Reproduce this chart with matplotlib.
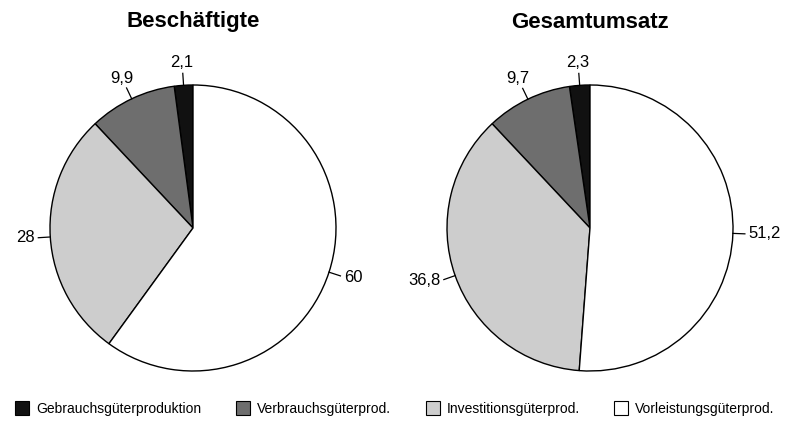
import numpy as np
import matplotlib.pyplot as plt
from matplotlib.patches import Patch

plt.rcParams['font.family'] = ['Liberation Sans', 'DejaVu Sans']

# data
categories = ['Gebrauchsgüterproduktion', 'Verbrauchsgüterprod.',
              'Investitionsgüterprod.', 'Vorleistungsgüterprod.']
beschaeftigte = [2.1, 9.9, 28, 60]
gesamtumsatz = [2.3, 9.7, 36.8, 51.2]
labels_b = ['2,1', '9,9', '28', '60']
labels_g = ['2,3', '9,7', '36,8', '51,2']
titles = ['Beschäftigte', 'Gesamtumsatz']

colors = ['#111111', '#6e6e6e', '#cdcdcd', '#ffffff']

fig = plt.figure(figsize=(7.9, 4.21), dpi=100)
ax = fig.add_axes([0, 0, 1, 1])

R = 143
centers = [(193, 193), (590, 193)]


def draw_pie(vals, labs, center, title):
    wedges, _ = ax.pie(vals, colors=colors, startangle=90, counterclock=True,
                       center=center, radius=R,
                       wedgeprops=dict(edgecolor='black', linewidth=1.0))
    for w, lab in zip(wedges, labs):
        ang = np.deg2rad((w.theta1 + w.theta2) / 2)
        c, s = np.cos(ang), np.sin(ang)
        x0, y0 = center[0] + R * c, center[1] + R * s
        x1, y1 = center[0] + (R + 12) * c, center[1] + (R + 12) * s
        ax.plot([x0, x1], [y0, y1], color='black', lw=0.9)
        if abs(c) > 0.7:
            ha = 'left' if c > 0 else 'right'
            tx, ty = center[0] + (R + 16) * c, center[1] + (R + 16) * s
        else:
            ha = 'center'
            tx, ty = center[0] + (R + 23) * c, center[1] + (R + 23) * s
        ax.text(tx, ty, lab, ha=ha, va='center', fontsize=12)
    ax.text(center[0], 399, title, ha='center', va='center',
            fontsize=16, fontweight='bold')


draw_pie(beschaeftigte, labels_b, centers[0], titles[0])
draw_pie(gesamtumsatz, labels_g, centers[1], titles[1])

ax.set_xlim(0, 790)
ax.set_ylim(0, 421)
ax.set_aspect('equal')
ax.axis('off')

handles = [Patch(facecolor=col, edgecolor='black', linewidth=0.8) for col in colors]
fig.legend(handles, categories, loc='center', bbox_to_anchor=(0.5, 0.03),
           ncol=4, frameon=False, fontsize=10, handlelength=1.0,
           handleheight=1.2, handletextpad=0.5, columnspacing=2.5)

fig.savefig('out.png', dpi=100)
